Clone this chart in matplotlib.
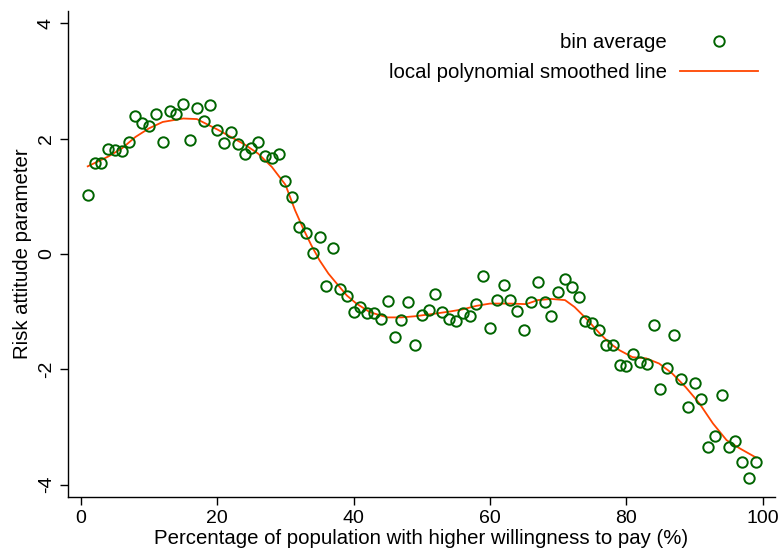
import matplotlib
matplotlib.use("Agg")
import matplotlib.pyplot as plt
import numpy as np

plt.rcParams['font.family'] = ['Liberation Sans', 'DejaVu Sans']
plt.rcParams['axes.unicode_minus'] = False

# bin averages (percentile 1..99)
pct = list(range(1, 100))
bin_avg = [
    1.02, 1.57, 1.58, 1.82, 1.80, 1.78, 1.94, 2.39, 2.27, 2.22,
    2.43, 1.94, 2.48, 2.43, 2.60, 1.98, 2.54, 2.31, 2.59, 2.15,
    1.92, 2.11, 1.90, 1.74, 1.83, 1.94, 1.70, 1.66, 1.73, 1.26,
    0.98, 0.47, 0.37, 0.01, 0.29, -0.56, 0.10, -0.61, -0.73, -1.01,
    -0.92, -1.03, -1.03, -1.13, -0.82, -1.44, -1.15, -0.84, -1.57, -1.05,
    -0.98, -0.70, -1.01, -1.13, -1.17, -1.03, -1.07, -0.86, -0.38, -1.29,
    -0.80, -0.54, -0.80, -0.99, -1.32, -0.84, -0.49, -0.84, -1.08, -0.66,
    -0.44, -0.58, -0.75, -1.17, -1.20, -1.31, -1.58, -1.58, -1.93, -1.95,
    -1.74, -1.88, -1.90, -1.24, -2.35, -1.98, -1.41, -2.16, -2.66, -2.24,
    -2.52, -3.34, -3.16, -2.45, -3.34, -3.25, -3.60, -3.89, -3.60,
]

# smoothed line
smooth_x = [1, 4, 6, 8, 10, 12, 15, 17, 18, 20, 22, 24, 26, 28, 30,
            31.4, 32.6, 33.8, 35, 36.3, 37.5, 39, 40.4, 42.4, 43.8, 45, 47,
            49, 51.6, 54, 56, 58, 60, 63, 65.3, 67, 69, 71, 72.4, 74.1,
            76.1, 77.6, 79, 80.9, 82.9, 84.8, 86.7, 88.7, 90.7, 92.7, 94.7,
            96.6, 99]
smooth_y = [1.52, 1.69, 1.83, 2.03, 2.18, 2.29, 2.35, 2.34, 2.28, 2.16,
            2.03, 1.90, 1.74, 1.51, 1.20, 0.76, 0.44, 0.15, -0.11, -0.34,
            -0.51, -0.72, -0.86, -1.01, -1.06, -1.10, -1.10, -1.08, -1.04,
            -1.00, -0.96, -0.90, -0.86, -0.86, -0.87, -0.80, -0.78, -0.80,
            -0.92, -1.12, -1.38, -1.55, -1.67, -1.79, -1.81, -1.90, -2.07,
            -2.31, -2.59, -2.94, -3.23, -3.37, -3.53]

green = '#006400'
orange = '#FF4500'

fig = plt.figure(figsize=(7.83, 5.59), dpi=100)
ax = fig.add_axes([0.0868, 0.1104, 0.9030, 0.8705])

ax.plot(pct, bin_avg, 'o', mfc='none', mec=green, mew=1.4, ms=7.5,
        label='bin average', zorder=3)
ax.plot(smooth_x, smooth_y, '-', color=orange, lw=1.3,
        label='local polynomial smoothed line', zorder=2)

ax.set_xlim(-1.9, 101.8)
ax.set_ylim(-4.22, 4.22)
ax.set_xticks([0, 20, 40, 60, 80, 100])
ax.set_yticks([-4, -2, 0, 2, 4])
for s in ['top', 'right']:
    ax.spines[s].set_visible(False)
for s in ['left', 'bottom']:
    ax.spines[s].set_linewidth(1.0)
ax.tick_params(direction='out', length=6, width=1.0, labelsize=14)
plt.setp(ax.get_yticklabels(), rotation=90, va='center')

ax.set_xlabel('Percentage of population with higher willingness to pay (%)',
              fontsize=14.7, labelpad=1)
ax.set_ylabel('Risk attitude parameter', fontsize=14.7, labelpad=4)

leg = ax.legend(loc='upper right', markerfirst=False, frameon=False,
                fontsize=14.7, handlelength=3.8, handletextpad=0.64,
                labelspacing=0.55, borderaxespad=0.3,
                bbox_to_anchor=(0.996, 0.984))
for t in leg.get_texts():
    t.set_ha('right')

fig.savefig('out.png', dpi=100)
